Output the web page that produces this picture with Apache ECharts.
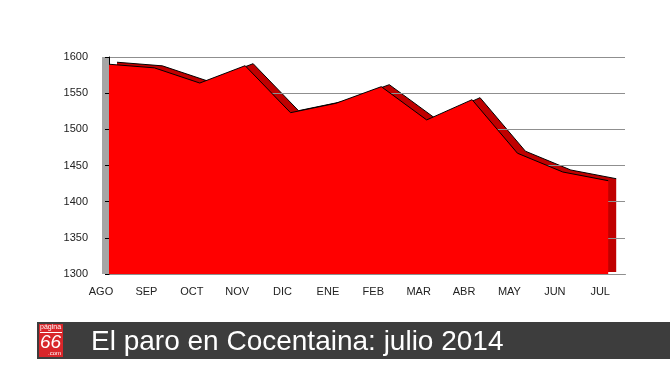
<!DOCTYPE html>
<html>
<head>
<meta charset="utf-8">
<script src="https://cdn.jsdelivr.net/npm/echarts@6/dist/echarts.min.js"></script>
<style>
  html, body { margin: 0; padding: 0; background: #fff; }
  #chart { width: 670px; height: 377px; }
</style>
</head>
<body>
<div id="chart"></div>
<script>
// meses (agosto 2013 - julio 2014)
const months = ['AGO', 'SEP', 'OCT', 'NOV', 'DIC', 'ENE', 'FEB', 'MAR', 'ABR', 'MAY', 'JUN', 'JUL'];
// parados registrados
const paro = [1590, 1585, 1564, 1588, 1523, 1536, 1559, 1513, 1541, 1467, 1441, 1429];
const yTicks = [1300, 1350, 1400, 1450, 1500, 1550, 1600];

const chart = echarts.init(document.getElementById('chart'));

const points = paro.map((v, i) => [i, v]);
const yMin = yTicks[0];
const yMax = yTicks[yTicks.length - 1];
const xMax = 11.37; // deja sitio a la derecha para las lineas de la rejilla

const option = {
  animation: false,
  title: {
    text: 'El paro en Cocentaina: julio 2014',
    left: 86,
    top: 323,
    textStyle: {
      color: '#fff',
      fontFamily: 'Liberation Sans, Arial, sans-serif',
      fontWeight: 'normal',
      fontSize: 28
    }
  },
  graphic: [
    { type: 'rect', left: 37, top: 322, shape: { width: 633, height: 37 }, style: { fill: '#3d3d3d' }, z: -1 },
    { type: 'rect', left: 39, top: 324, shape: { width: 24, height: 33 }, style: { fill: '#d8262a' } },
    { type: 'text', left: 40, top: 324, style: { text: 'página', fill: '#fff', font: '7px Liberation Sans' } },
    { type: 'rect', left: 40, top: 332, shape: { width: 22, height: 1 }, style: { fill: '#fff' } },
    { type: 'text', left: 40, top: 333, style: { text: '66', fill: '#fff', font: 'italic 19px Liberation Sans' } },
    { type: 'text', left: 48, top: 350, style: { text: '.com', fill: '#fff', font: '6px Liberation Sans' } }
  ],
  grid: [
    { left: 109, right: 45, top: 57, bottom: 103 },
    { left: 117, right: 37, top: 55, bottom: 105 }
  ],
  xAxis: [
    {
      type: 'value',
      gridIndex: 0,
      min: 0,
      max: xMax,
      interval: 1,
      splitLine: { show: false },
      axisLine: { lineStyle: { color: '#000', width: 1 } },
      axisTick: { show: false },
      axisLabel: {
        color: '#222',
        fontSize: 11,
        fontFamily: 'Liberation Sans, Arial, sans-serif',
        margin: 12,
        padding: [0, 16, 0, 0],
        showMaxLabel: true,
        formatter: v => (Number.isInteger(v) && months[v]) ? months[v] : ''
      }
    },
    { type: 'value', gridIndex: 1, min: 0, max: xMax, show: false }
  ],
  yAxis: [
    {
      type: 'value',
      gridIndex: 0,
      position: 'left',
      min: yMin,
      max: yMax,
      interval: 50,
      offset: 8,
      z: 2,
      axisLine: { show: true, lineStyle: { color: '#000', width: 1 } },
      axisTick: { show: true, length: 4, lineStyle: { color: '#000' } },
      axisLabel: {
        color: '#222',
        fontSize: 11,
        fontFamily: 'Liberation Sans, Arial, sans-serif',
        margin: 13,
        formatter: v => String(v)
      },
      splitLine: { lineStyle: { color: '#8f8f8f', width: 1 } }
    },
    {
      // pared lateral gris
      type: 'value',
      gridIndex: 0,
      position: 'left',
      min: yMin,
      max: yMax,
      offset: 3.5,
      z: 1,
      axisLine: { show: true, lineStyle: { color: '#a6a6a6', width: 7, cap: 'butt' } },
      axisTick: { show: false },
      axisLabel: { show: false },
      splitLine: { show: false }
    },
    { type: 'value', gridIndex: 1, min: yMin, max: yMax, show: false }
  ],
  series: [
    {
      // profundidad 3D
      type: 'line',
      xAxisIndex: 1,
      yAxisIndex: 2,
      data: points,
      symbol: 'none',
      lineStyle: { color: '#000', width: 1 },
      areaStyle: { color: '#c00000', opacity: 1 },
      z: 1
    },
    {
      name: 'Paro',
      type: 'line',
      xAxisIndex: 0,
      yAxisIndex: 0,
      data: points,
      symbol: 'none',
      lineStyle: { color: '#000', width: 1 },
      areaStyle: { color: '#ff0000', opacity: 1 },
      z: 3
    }
  ]
};

chart.setOption(option);
</script>
</body>
</html>
